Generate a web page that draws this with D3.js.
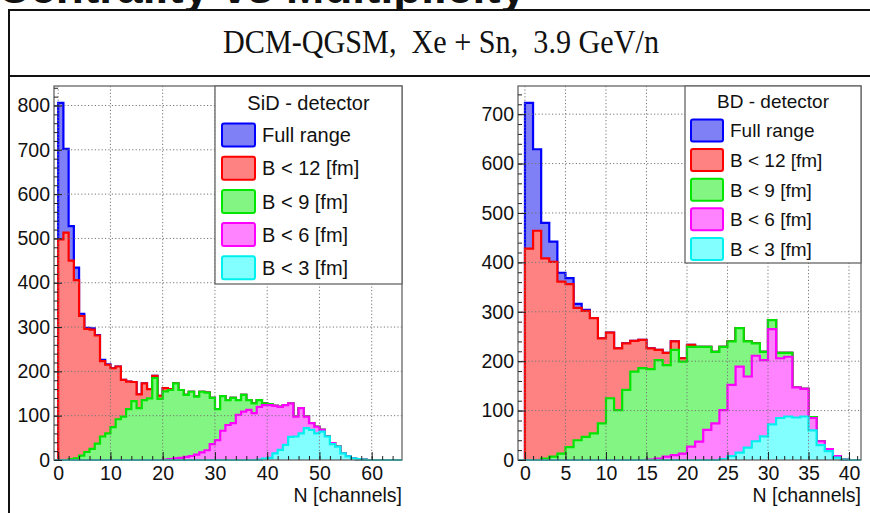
<!DOCTYPE html>
<html>
<head>
<meta charset="utf-8">
<script src="https://cdn.jsdelivr.net/npm/d3@7"></script>
<style>
  body { margin: 0; background: #fff; }
  svg { display: block; }
  text { font-family: "Liberation Sans", Arial, Helvetica, sans-serif; fill: #111; }
</style>
</head>
<body>
<script>
// bin contents, one value per channel starting at N = 0

// SiD - detector
var sidFull = [806,702,528,434,330,298,297,282,226,216,207,211,181,177,176,148,173,160,190,145,162,160,173,158,147,154,143,154,152,140,115,144,135,140,135,147,135,128,135,128,126,122,120,124,128,98,117,98,83,75,68,53,38,30,15,8,4,2,1];
var sidB12 = [498,513,450,406,325,296,294,281,223,215,207,211,181,177,176,148,173,160,190,145,162,160,173,158,147,154,143,154,152,140,115,144,135,140,135,147,135,128,135,128,126,122,120,124,128,98,117,98,83,75,68,53,38,30,15,8,4,2,1];
var sidB9 = [0,0,2,4,10,18,25,37,53,60,74,92,98,115,133,117,135,139,185,138,155,158,173,158,147,154,143,154,152,140,115,144,135,140,135,147,135,128,135,128,126,122,120,124,128,98,117,98,83,75,68,53,38,30,15,8,4,2,1];
var sidB6 = [0,0,0,0,0,0,0,0,0,0,0,0,0,0,0,0,0,0,0,0,1,2,4,5,7,9,12,17,22,36,45,66,79,83,102,109,113,106,120,124,124,122,120,124,128,98,117,98,83,75,68,53,38,30,15,8,4,2,1];
var sidB3 = [0,0,0,0,0,0,0,0,0,0,0,0,0,0,0,0,0,0,0,0,0,0,0,0,0,0,0,0,0,0,0,0,0,0,0,0,0,0,1,3,5,15,23,34,52,53,60,72,68,60,64,53,36,30,15,8,4,2,1];

// BD - detector
var bdFull = [723,629,480,442,379,368,316,304,287,246,258,226,236,241,243,226,223,217,240,206,233,229,229,219,229,240,267,240,236,219,283,217,217,147,144,87,38,22,8,1];
var bdB12 = [428,464,408,401,361,356,308,302,287,246,258,226,236,241,243,226,223,217,240,206,233,229,229,219,229,240,267,240,236,219,283,217,217,147,144,87,38,22,8,1];
var bdB9 = [0,0,3,7,13,26,40,47,54,74,125,101,142,179,186,184,202,192,223,199,229,229,229,219,229,240,267,240,236,219,283,217,217,147,144,87,38,22,8,1];
var bdB6 = [0,0,0,0,0,0,0,0,0,0,0,0,0,0,0,1,3,7,10,13,27,37,61,74,101,152,189,169,211,202,265,206,209,147,144,85,38,22,8,1];
var bdB3 = [0,0,0,0,0,0,0,0,0,0,0,0,0,0,0,0,0,0,0,0,0,0,0,0,2,8,15,25,38,48,72,85,88,86,88,60,30,18,5,1];

var seriesLabels = ["Full range", "B < 12 [fm]", "B < 9 [fm]", "B < 6 [fm]", "B < 3 [fm]"];

var sidXTicks = [0, 10, 20, 30, 40, 50, 60];
var bdXTicks = [0, 5, 10, 15, 20, 25, 30, 35, 40];
var sidYTicks = [0, 100, 200, 300, 400, 500, 600, 700, 800];
var bdYTicks = [0, 100, 200, 300, 400, 500, 600, 700];

var lineColors = ["#0000ff", "#ff0000", "#00e600", "#ff00ff", "#00f0f0"];
var fillColors = ["#7f7ff6", "#ff8282", "#82f582", "#ff82ff", "#82ffff"];

var svg = d3.select("body").append("svg")
    .attr("width", 870)
    .attr("height", 513);

// title that is cut off by the top of the picture
svg.append("text")
    .attr("x", -3)
    .attr("y", 3)
    .style("font-size", "46px")
    .style("font-weight", "bold")
    .text("Centrality vs Multiplicity");

// pad border and title box
svg.append("rect")
    .attr("x", 9)
    .attr("y", 10)
    .attr("width", 880)
    .attr("height", 66)
    .attr("fill", "#fff")
    .attr("stroke", "#111")
    .attr("stroke-width", 2);

svg.append("line")
    .attr("x1", 9).attr("x2", 9)
    .attr("y1", 76).attr("y2", 513)
    .attr("stroke", "#111")
    .attr("stroke-width", 2);

svg.append("text")
    .attr("x", 441)
    .attr("y", 53)
    .attr("text-anchor", "middle")
    .attr("textLength", 436)
    .attr("lengthAdjust", "spacingAndGlyphs")
    .style("font-family", "'Liberation Serif', 'Times New Roman', serif")
    .style("font-size", "33px")
    .style("white-space", "pre")
    .text("DCM-QGSM,  Xe + Sn,  3.9 GeV/n");

drawPanel({
    left: 54, right: 402, top: 86, bottom: 460,
    xDomain: [-0.8, 65.8], yMax: 844,
    xTicks: sidXTicks, xMinorStep: 2,
    yTicks: sidYTicks,
    series: [sidFull, sidB12, sidB9, sidB6, sidB3],
    legend: { x: 215, y: 86, w: 187, h: 198, title: "SiD - detector", titleY: 103,
              firstRow: 135, rowStep: 33.2, swX: 222, swW: 33, swH: 23, textX: 262, font: 20 }
});

drawPanel({
    left: 518, right: 861, top: 86, bottom: 460,
    xDomain: [-0.86, 41.48], yMax: 757,
    xTicks: bdXTicks, xMinorStep: 1,
    yTicks: bdYTicks,
    series: [bdFull, bdB12, bdB9, bdB6, bdB3],
    legend: { x: 685, y: 86, w: 176, h: 177, title: "BD - detector", titleY: 101,
              firstRow: 130.5, rowStep: 29.6, swX: 691, swW: 32, swH: 22, textX: 730, font: 19 }
});

function histPoints(values, x0, x1) {
    var pts = [[x0, 0], [0, 0]];
    values.forEach(function (v, i) {
        pts.push([i, v]);
        pts.push([i + 1, v]);
    });
    pts.push([values.length, 0]);
    pts.push([x1, 0]);
    return pts;
}

function range(a, b, step) {
    var out = [];
    for (var v = a; v <= b + 1e-9; v += step) out.push(v);
    return out;
}

function drawPanel(p) {
    var x = d3.scaleLinear().domain(p.xDomain).range([p.left, p.right]);
    var y = d3.scaleLinear().domain([0, p.yMax]).range([p.bottom, p.top]);

    var g = svg.append("g");

    var area = d3.area()
        .x(function (d) { return x(d[0]); })
        .y0(y(0))
        .y1(function (d) { return y(d[1]); });
    var line = d3.line()
        .x(function (d) { return x(d[0]); })
        .y(function (d) { return y(d[1]); });

    // histograms, drawn in order so the narrower cuts sit on top
    p.series.forEach(function (values, k) {
        var pts = histPoints(values, p.xDomain[0], p.xDomain[1]);
        g.append("path")
            .attr("d", area(pts))
            .attr("fill", fillColors[k]);
        g.append("path")
            .attr("d", line(pts))
            .attr("fill", "none")
            .attr("stroke", lineColors[k])
            .attr("stroke-width", 2.2)
            .attr("stroke-linejoin", "miter");
    });

    // dotted grid
    g.selectAll(".gx").data(p.xTicks).enter().append("line")
        .attr("x1", function (d) { return x(d); })
        .attr("x2", function (d) { return x(d); })
        .attr("y1", p.top).attr("y2", p.bottom)
        .attr("stroke", "#777")
        .attr("stroke-width", 1)
        .attr("stroke-dasharray", "1.2,2.2");
    g.selectAll(".gy").data(p.yTicks.filter(function (d) { return d > 0; })).enter().append("line")
        .attr("y1", function (d) { return y(d); })
        .attr("y2", function (d) { return y(d); })
        .attr("x1", p.left).attr("x2", p.right)
        .attr("stroke", "#777")
        .attr("stroke-width", 1)
        .attr("stroke-dasharray", "1.2,2.2");

    // frame
    g.append("rect")
        .attr("x", p.left).attr("y", p.top)
        .attr("width", p.right - p.left)
        .attr("height", p.bottom - p.top)
        .attr("fill", "none")
        .attr("stroke", "#666")
        .attr("stroke-width", 1.3);

    // axes, ticks pointing into the frame
    var xMinor = range(0, p.xDomain[1], p.xMinorStep);
    var yMinor = range(0, p.yMax, 20);

    g.append("g")
        .attr("transform", "translate(0," + p.bottom + ")")
        .call(d3.axisBottom(x).tickValues(xMinor).tickSize(-4).tickFormat(""))
        .call(cleanAxis);
    g.append("g")
        .attr("transform", "translate(0," + p.bottom + ")")
        .call(d3.axisBottom(x).tickValues(p.xTicks).tickSize(-8).tickPadding(6).tickFormat(d3.format("d")))
        .call(cleanAxis);
    g.append("g")
        .attr("transform", "translate(" + p.left + ",0)")
        .call(d3.axisLeft(y).tickValues(yMinor).tickSize(-4).tickFormat(""))
        .call(cleanAxis);
    g.append("g")
        .attr("transform", "translate(" + p.left + ",0)")
        .call(d3.axisLeft(y).tickValues(p.yTicks).tickSize(-8).tickPadding(4).tickFormat(d3.format("d")))
        .call(cleanAxis);

    g.append("text")
        .attr("x", p.right)
        .attr("y", 502)
        .attr("text-anchor", "end")
        .style("font-size", "19.5px")
        .text("N [channels]");

    // legend
    var L = p.legend;
    g.append("rect")
        .attr("x", L.x).attr("y", L.y)
        .attr("width", L.w).attr("height", L.h)
        .attr("fill", "#fff")
        .attr("stroke", "#666")
        .attr("stroke-width", 1.3);
    g.append("text")
        .attr("x", L.x + L.w / 2)
        .attr("y", L.titleY)
        .attr("dy", "0.36em")
        .attr("text-anchor", "middle")
        .style("font-size", L.font + "px")
        .text(L.title);
    seriesLabels.forEach(function (label, k) {
        var cy = L.firstRow + k * L.rowStep;
        g.append("rect")
            .attr("x", L.swX).attr("y", cy - L.swH / 2)
            .attr("width", L.swW).attr("height", L.swH)
            .attr("rx", 2)
            .attr("fill", fillColors[k])
            .attr("stroke", lineColors[k])
            .attr("stroke-width", 2);
        g.append("text")
            .attr("x", L.textX)
            .attr("y", cy)
            .attr("dy", "0.36em")
            .style("font-size", L.font + "px")
            .text(label);
    });
}

function cleanAxis(sel) {
    sel.select(".domain").remove();
    sel.selectAll(".tick line").attr("stroke", "#222").attr("stroke-width", 1);
    sel.selectAll(".tick text")
        .style("font-family", "'Liberation Sans', Arial, Helvetica, sans-serif")
        .style("font-size", "19.5px")
        .attr("fill", "#111");
}
</script>
</body>
</html>
